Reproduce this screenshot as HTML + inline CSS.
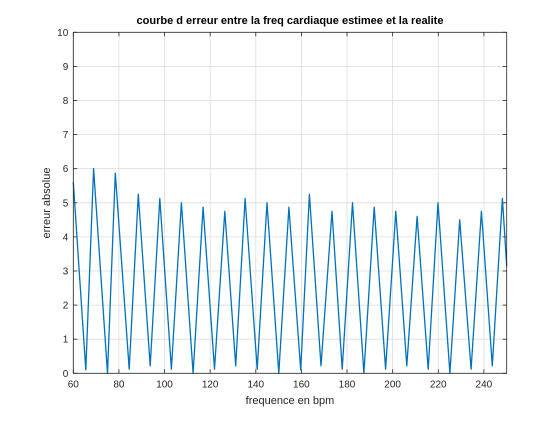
<!DOCTYPE html>
<html><head><meta charset="utf-8"><style>
body{margin:0;background:#fff;width:560px;height:420px;overflow:hidden}
svg{font-family:"Liberation Sans",sans-serif}
</style></head><body>
<svg id="chart" width="560" height="420" xmlns="http://www.w3.org/2000/svg">
<rect width="560" height="420" fill="#fff"/>
<rect x="73.3" y="32.3" width="433.4" height="341" fill="#fff"/>
<g id="grid"></g>
<g id="ticks"></g>
<polyline id="series" fill="none" stroke="#0072BD" stroke-width="1.3" stroke-linejoin="round"/>
<rect x="73.3" y="32.3" width="433.4" height="341" fill="none" stroke="#262626" stroke-width="0.8"/>
<text x="290" y="24" text-anchor="middle" font-size="11" font-weight="bold" fill="#000">courbe d erreur entre la freq cardiaque estimee et la realite</text>
<text x="290" y="404" text-anchor="middle" font-size="11" fill="#262626">frequence en bpm</text>
<text transform="translate(50,203) rotate(-90)" text-anchor="middle" font-size="11" fill="#262626">erreur absolue</text>
</svg>
<script>
const xTicks=[60,80,100,120,140,160,180,200,220,240];
const yTicks=[0,1,2,3,4,5,6,7,8,9,10];
const freq=[60,65.5,68.9,75.0,78.4,84.5,88.5,93.7,97.9,103.0,107.4,112.5,116.9,121.9,126.4,131.2,135.3,140.6,144.9,150.1,154.5,159.7,163.5,168.6,173.4,177.9,182.4,187.4,191.9,196.9,201.4,206.2,210.7,215.6,219.9,225.1,229.4,234.4,238.9,243.7,248.1,250];
const err=[5.6,0.1,6.0,0.0,5.87,0.12,5.25,0.22,5.13,0.12,5.0,0.0,4.87,0.12,4.75,0.22,5.13,0.12,5.0,0.0,4.87,0.1,5.25,0.22,4.75,0.12,5.0,0.0,4.87,0.12,4.75,0.22,4.6,0.12,5.0,0.0,4.5,0.12,4.75,0.22,5.13,3.15];
const X0=73.3,X1=506.7,Y0=373.3,Y1=32.3;
const sx=v=>X0+(v-60)/(250-60)*(X1-X0);
const sy=v=>Y0-(v-0)/(10-0)*(Y0-Y1);
const NS="http://www.w3.org/2000/svg";
const grid=document.getElementById('grid'),ticks=document.getElementById('ticks');
function mk(tag,attrs,parent){const e=document.createElementNS(NS,tag);for(const k in attrs)e.setAttribute(k,attrs[k]);parent.appendChild(e);return e;}
xTicks.forEach(t=>{const x=sx(t);
 const g=mk('line',{x1:x,x2:x,y1:Y1,y2:Y0,stroke:'#dcdcdc','stroke-width':0.8},grid);
 
 
 const a=mk('line',{x1:x,x2:x,y1:Y0,y2:Y0-4,stroke:'#262626','stroke-width':0.8},ticks);
 
 
 const b=mk('line',{x1:x,x2:x,y1:Y1,y2:Y1+4,stroke:'#262626','stroke-width':0.8},ticks);
 
 
 const l=mk('text',{x:x,y:Y0+14,'text-anchor':'middle','font-size':10,fill:'#262626'},ticks);l.textContent=t;
 
 
});
yTicks.forEach(t=>{const y=sy(t);
 const g=mk('line',{x1:X0,x2:X1,y1:y,y2:y,stroke:'#dcdcdc','stroke-width':0.8},grid);
 
 
 const a=mk('line',{x1:X0,x2:X0+4,y1:y,y2:y,stroke:'#262626','stroke-width':0.8},ticks);
 
 
 const b=mk('line',{x1:X1,x2:X1-4,y1:y,y2:y,stroke:'#262626','stroke-width':0.8},ticks);
 
 
 const l=mk('text',{x:X0-5,y:y+3.5,'text-anchor':'end','font-size':10,fill:'#262626'},ticks);l.textContent=t;
 
 
});
document.getElementById('series').setAttribute('points',freq.map((f,i)=>sx(f).toFixed(1)+','+sy(err[i]).toFixed(1)).join(' '));
</script>
</body></html>
